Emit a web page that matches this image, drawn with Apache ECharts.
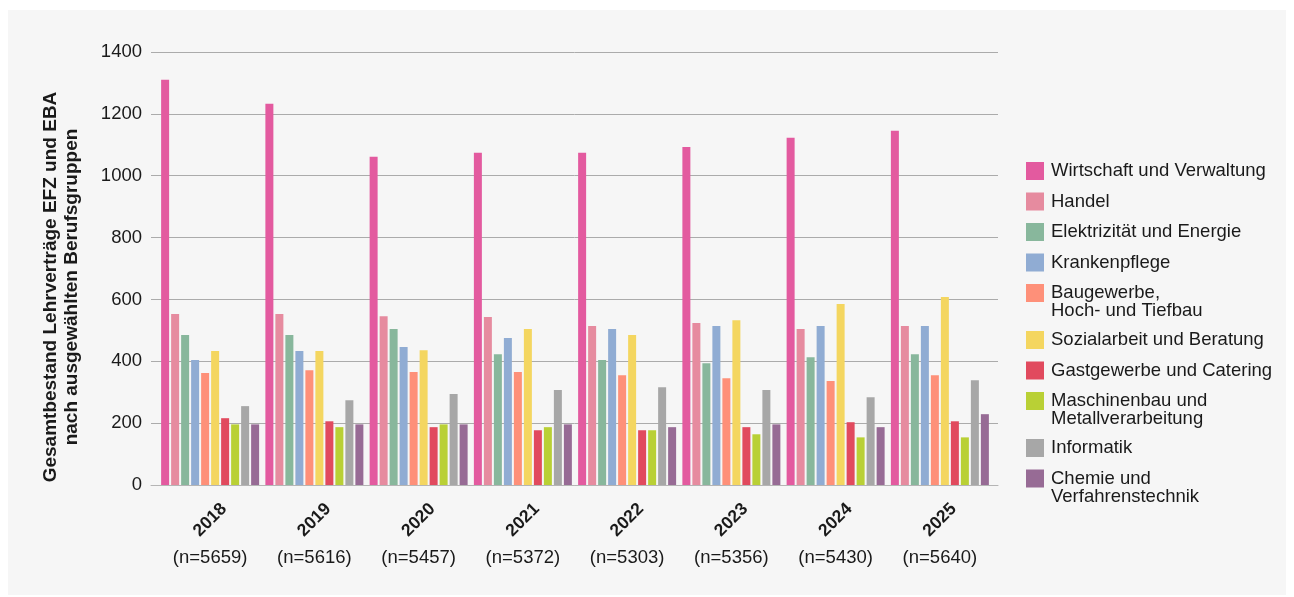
<!DOCTYPE html>
<html>
<head>
<meta charset="utf-8">
<script src="https://cdn.jsdelivr.net/npm/echarts@6/dist/echarts.min.js"></script>
<style>
html,body{margin:0;padding:0;background:#fff;}
#panel{position:absolute;left:8px;top:10px;width:1278px;height:585px;background:#f6f6f6;}
#chart{position:absolute;left:0;top:0;width:1294px;height:597px;}
</style>
</head>
<body>
<div id="panel"></div>
<div id="chart"></div>
<script>
const years = ['2018','2019','2020','2021','2022','2023','2024','2025'];
const nLabels = ['(n=5659)','(n=5616)','(n=5457)','(n=5372)','(n=5303)','(n=5356)','(n=5430)','(n=5640)'];
const seriesNames = [
  'Wirtschaft und Verwaltung',
  'Handel',
  'Elektrizität und Energie',
  'Krankenpflege',
  'Baugewerbe,\nHoch- und Tiefbau',
  'Sozialarbeit und Beratung',
  'Gastgewerbe und Catering',
  'Maschinenbau und\nMetallverarbeitung',
  'Informatik',
  'Chemie und\nVerfahrenstechnik'
];
const colors = ['#e35a9f','#e68b9f','#88b79c','#90acd3','#fe9079','#f4d660','#e14a5e','#b9d035','#a7a7a7','#976b95'];
const wirtschaft = [1310, 1233, 1061, 1074, 1074, 1093, 1123, 1145];
const handel     = [553, 553, 546, 543, 514, 524, 504, 514];
const elektro    = [485, 485, 504, 423, 404, 394, 413, 423];
const kranken    = [404, 433, 446, 475, 504, 514, 514, 514];
const bau        = [362, 371, 365, 365, 355, 345, 336, 355];
const sozial     = [433, 433, 436, 504, 485, 533, 585, 608];
const gast       = [216, 206, 187, 177, 177, 187, 203, 206];
const maschinen  = [196, 187, 196, 187, 177, 164, 154, 154];
const informatik = [255, 274, 294, 307, 316, 307, 284, 339];
const chemie     = [196, 196, 196, 196, 187, 196, 187, 229];
const values = [wirtschaft, handel, elektro, kranken, bau, sozial, gast, maschinen, informatik, chemie];
const yTicks = {min: 0, max: 1400, interval: 200};

const FONT = '"Liberation Sans", Arial, sans-serif';
const TXT = '#1a1a1a';

const chart = echarts.init(document.getElementById('chart'), null, {renderer: 'canvas'});

// legends: one component per item so multi-line entries align icon with first line
const legends = [];
let legendTop = 159.5;
seriesNames.forEach((name) => {
  const lines = name.split('\n').length;
  legends.push({
    left: 1026,
    top: legendTop,
    orient: 'vertical',
    padding: 0,
    itemGap: 0,
    itemWidth: 18,
    itemHeight: lines === 2 ? 36 : 18,
    selectedMode: false,
    data: [{name: name, icon: lines === 2 ? 'path://M0,0H18V18H0Z M0,36L0.01,36' : 'rect'}],
    textStyle: {fontFamily: FONT, fontSize: 18.5, lineHeight: 18, color: TXT, padding: [5, 0, 0, 2]}
  });
  legendTop += lines === 2 ? 47 : 30.5;
});

const series = seriesNames.map((name, i) => ({
  name: name,
  type: 'bar',
  xAxisIndex: 0,
  yAxisIndex: 0,
  barWidth: 8,
  barGap: '25%',
  itemStyle: {color: colors[i]},
  data: values[i]
}));

chart.setOption({
  animation: false,
  backgroundColor: 'transparent',
  textStyle: {fontFamily: FONT},
  color: colors,
  legend: legends,
  grid: [
    {left: 158, right: 302, top: 52, bottom: 112},
    {left: 151, right: 296, top: 52, bottom: 112}
  ],
  xAxis: [
    {
      type: 'category', gridIndex: 0, data: years,
      axisLine: {show: false}, axisTick: {show: false},
      axisLabel: {interval: 0, rotate: 45, align: 'center', verticalAlign: 'middle', margin: 35,
                  fontSize: 17.5, fontWeight: 'bold', color: TXT, fontFamily: FONT}
    },
    {
      type: 'category', gridIndex: 0, position: 'bottom', data: nLabels,
      axisLine: {show: false}, axisTick: {show: false},
      axisLabel: {interval: 0, margin: 63, fontSize: 18.5, color: TXT, fontFamily: FONT}
    },
    {
      type: 'value', gridIndex: 1, min: 0, max: 1,
      axisLine: {show: true, lineStyle: {color: '#b5b5b5', width: 1}},
      axisTick: {show: false}, axisLabel: {show: false}, splitLine: {show: false}
    }
  ],
  yAxis: [
    {type: 'value', gridIndex: 0, min: yTicks.min, max: yTicks.max, interval: yTicks.interval, show: false},
    {
      type: 'value', gridIndex: 1, min: yTicks.min, max: yTicks.max, interval: yTicks.interval,
      axisLine: {show: false}, axisTick: {show: false},
      axisLabel: {margin: 9, fontSize: 18.5, color: TXT, fontFamily: FONT, formatter: (v) => String(v)},
      splitLine: {lineStyle: {color: '#ababab', width: 1}},
      name: 'Gesamtbestand Lehrverträge EFZ und EBA\nnach ausgewählten Berufsgruppen',
      nameLocation: 'middle',
      nameGap: 69,
      nameTextStyle: {fontFamily: FONT, fontSize: 19, fontWeight: 'bold', color: TXT, lineHeight: 21,
                      align: 'center', padding: [0, 37, 0, 0]}
    }
  ],
  series: series
});
</script>
</body>
</html>
